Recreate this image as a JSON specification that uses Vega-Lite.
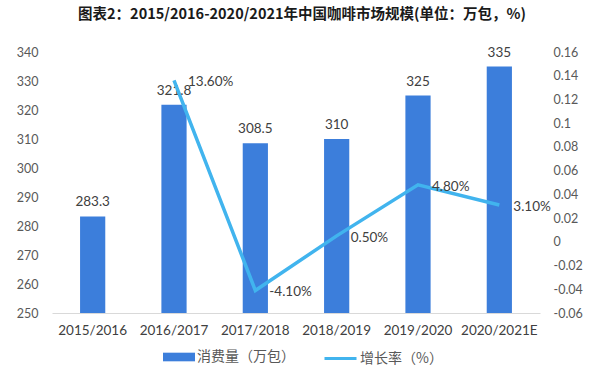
{
  "$schema": "https://vega.github.io/schema/vega-lite/v6.json",
  "width": 488,
  "height": 261,
  "autosize": {"type": "none"},
  "padding": {"left": 52, "top": 52, "right": 60, "bottom": 66},
  "background": "white",
  "config": {
    "view": {"stroke": null},
    "axis": {"labelOverlap": false},
    "locale": {"number": {"decimal": ".", "thousands": ",", "grouping": [3], "currency": ["$", ""], "minus": "-"}}
  },
  "title": {
    "text": "图表2：2015/2016-2020/2021年中国咖啡市场规模(单位：万包，%)",
    "font": "Noto Sans CJK SC",
    "fontSize": 14.5,
    "fontWeight": "bold",
    "color": "#1a1a1a",
    "anchor": "middle",
    "dx": 6,
    "offset": 23
  },
  "data": {
    "values": [
      {"year": "2015/2016", "consumption": 283.3, "growth": null},
      {"year": "2016/2017", "consumption": 321.8, "growth": 0.136},
      {"year": "2017/2018", "consumption": 308.5, "growth": -0.041},
      {"year": "2018/2019", "consumption": 310, "growth": 0.005},
      {"year": "2019/2020", "consumption": 325, "growth": 0.048},
      {"year": "2020/2021E", "consumption": 335, "growth": 0.031}
    ]
  },
  "encoding": {
    "x": {
      "field": "year",
      "type": "nominal",
      "sort": null,
      "scale": {"paddingInner": 0.69, "paddingOuter": 0.345},
      "axis": {
        "title": null,
        "labelAngle": 0,
        "ticks": false,
        "labelPadding": 10,
        "labelFont": "Lato",
        "labelFontSize": 13.5,
        "labelColor": "#404040",
        "domainColor": "#d9d9d9",
        "domainWidth": 1,
        "zindex": 1
      }
    }
  },
  "layer": [
    {
      "encoding": {
        "y": {
          "field": "consumption",
          "type": "quantitative",
          "scale": {"domain": [250, 340], "nice": false, "zero": false},
          "axis": {
            "title": null,
            "values": [250, 260, 270, 280, 290, 300, 310, 320, 330, 340],
            "labelOverlap": false,
            "domain": false,
            "ticks": false,
            "grid": false,
            "labelPadding": 14,
            "labelFont": "Lato",
            "labelFontSize": 12.5,
            "labelColor": "#595959"
          }
        }
      },
      "layer": [
        {
          "mark": {"type": "bar", "clip": true},
          "encoding": {
            "y2": {"datum": 250},
            "color": {
              "datum": "消费量（万包）",
              "type": "nominal",
              "scale": {"range": ["#3C7EDB"]},
              "legend": {
                "title": null,
                "orient": "none",
                "legendX": 111,
                "legendY": 289,
                "symbolType": "M-1,-0.27L1,-0.27L1,0.27L-1,0.27Z",
                "symbolSize": 1024,
                "symbolStrokeWidth": 0,
                "labelFont": "Noto Sans CJK SC",
                "labelFontSize": 14,
                "labelColor": "#595959",
                "labelOffset": 2
              }
            }
          }
        },
        {
          "mark": {"type": "text", "baseline": "bottom", "dy": -7, "font": "Lato", "fontSize": 13.5, "color": "#404040"},
          "encoding": {
            "text": {"field": "consumption", "type": "quantitative", "format": ""}
          }
        }
      ]
    },
    {
      "transform": [{"filter": "datum.growth != null"}],
      "encoding": {
        "y": {
          "field": "growth",
          "type": "quantitative",
          "scale": {"domain": [-0.06, 0.16], "nice": false, "zero": false},
          "axis": {
            "title": null,
            "orient": "right",
            "values": [-0.06, -0.04, -0.02, 0, 0.02, 0.04, 0.06, 0.08, 0.1, 0.12, 0.14, 0.16],
            "labelOverlap": false,
            "format": ".2~f",
            "domain": false,
            "ticks": false,
            "grid": false,
            "labelPadding": 13,
            "labelFont": "Lato",
            "labelFontSize": 12.5,
            "labelColor": "#595959"
          }
        }
      },
      "layer": [
        {
          "mark": {"type": "line", "strokeWidth": 3.5},
          "encoding": {
            "stroke": {
              "datum": "增长率（%）",
              "type": "nominal",
              "scale": {"range": ["#41B4EE"]},
              "legend": {
                "title": null,
                "orient": "none",
                "legendX": 271,
                "legendY": 289,
                "symbolType": "stroke",
                "symbolSize": 1024,
                "symbolStrokeWidth": 3,
                "labelFont": "Noto Sans CJK SC",
                "labelFontSize": 14,
                "labelColor": "#595959",
                "labelOffset": 2
              }
            }
          }
        },
        {
          "mark": {"type": "text", "align": "left", "baseline": "middle", "dx": 14, "dy": 2, "font": "Lato", "fontSize": 13.5, "color": "#404040"},
          "encoding": {
            "text": {"field": "growth", "type": "quantitative", "format": ".2%"}
          }
        }
      ]
    }
  ],
  "resolve": {"scale": {"y": "independent"}}
}
